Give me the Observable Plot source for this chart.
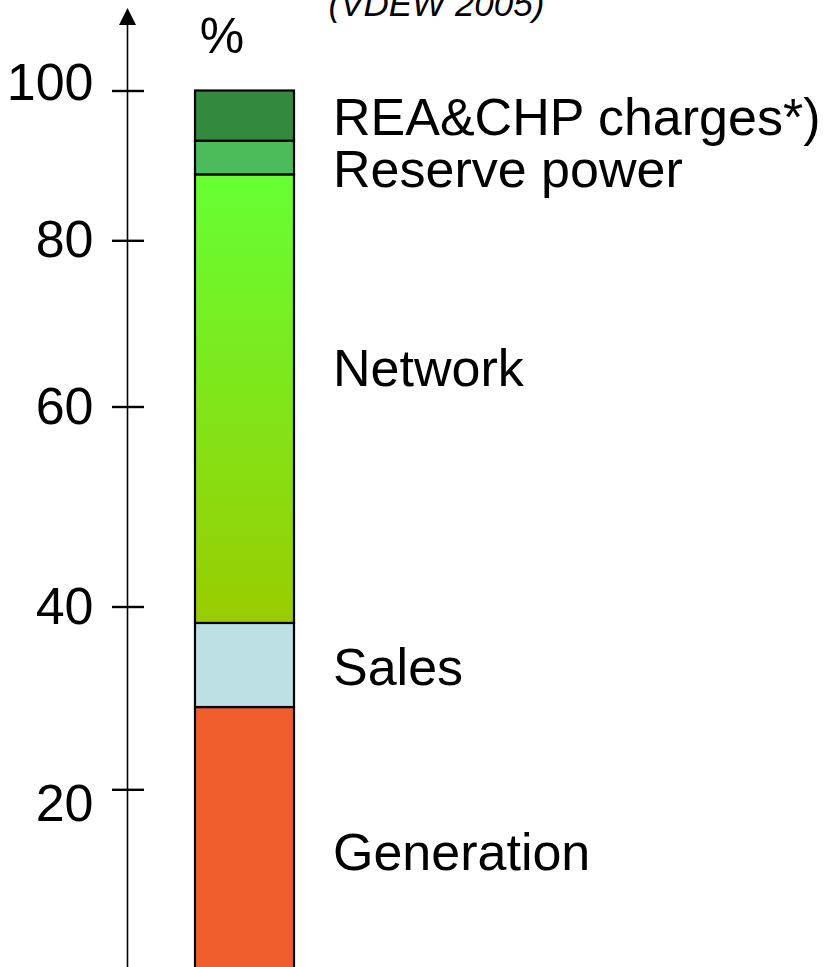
<!DOCTYPE html>
<html>
<head>
<meta charset="utf-8">
<script src="https://cdn.jsdelivr.net/npm/d3@7"></script>
<script src="https://cdn.jsdelivr.net/npm/@observablehq/plot@0.6"></script>
<style>
  html, body { margin: 0; padding: 0; background: #fff; overflow: hidden; }
</style>
</head>
<body>
<div id="chart"></div>
<script>
// ---- data ----
const components = ["Generation", "Sales", "Network", "Reserve power", "REA&CHP charges*)"];
const shares = [29.0, 9.2, 50.6, 4.5, 6.7];
const colors = ["#f05e2e", "#bce0e3", "url(#networkGradient)", "#4cbb5a", "#338a3e"];
const yTicks = [20, 40, 60, 80, 100];
const unitLabel = "%";
const sourceLabel = "(VDEW 2005)";
const barKey = "Household electricity price";

// ---- build table ----
let acc = 0;
const rows = components.map((name, i) => {
  const lo = acc;
  acc += shares[i];
  return { name, value: shares[i], bar: barKey, mid: (lo + acc) / 2 };
});

const labelNudge = { "REA&CHP charges*)": 2, "Reserve power": 12, "Network": -9, "Sales": 3, "Generation": 13 };
const tickNudge = { 100: -8, 20: 15 };

// gradient definition for the network segment
function gradientDefs() {
  const ns = "http://www.w3.org/2000/svg";
  const defs = document.createElementNS(ns, "defs");
  const g = document.createElementNS(ns, "linearGradient");
  g.setAttribute("id", "networkGradient");
  g.setAttribute("x1", "0"); g.setAttribute("y1", "1");
  g.setAttribute("x2", "0"); g.setAttribute("y2", "0");
  [["0%", "#9acc00"], ["100%", "#66ff33"]].forEach(([o, c]) => {
    const s = document.createElementNS(ns, "stop");
    s.setAttribute("offset", o);
    s.setAttribute("stop-color", c);
    g.appendChild(s);
  });
  defs.appendChild(g);
  return defs;
}

const arrowHead = {
  draw(context, size) {
    const r = Math.sqrt(size / Math.PI);
    context.moveTo(0, -r);
    context.lineTo(r, r);
    context.lineTo(-r, r);
    context.closePath();
  }
};

const chart = Plot.plot({
  width: 828,
  height: 967,
  marginLeft: 127,
  marginRight: 684,
  marginTop: 16,
  marginBottom: 0,
  style: {
    fontFamily: "'Liberation Sans', Arial, Helvetica, sans-serif",
    fontSize: "52px",
    color: "black",
    background: "white"
  },
  x: { domain: [barKey], range: [195, 294], padding: 0, round: false, axis: null },
  y: { type: "linear", domain: [0, ...yTicks], range: [973, 789.3, 606.5, 406.5, 240.3, 90.5], axis: null },
  color: { type: "ordinal", domain: components, range: colors },
  marks: [
    gradientDefs,
    Plot.barY(rows, { x: "bar", y: "value", fill: "name", stroke: "black", strokeWidth: 2.2 }),
    Plot.frame({ anchor: "left", stroke: "black", strokeWidth: 1.6 }),
    Plot.dot([0], { frameAnchor: "top-left", symbol: arrowHead, r: 8.5, fill: "black", stroke: null }),
    Plot.ruleY(yTicks, { y: d => d, insetLeft: -15, stroke: "black", strokeWidth: 2.4 }),
    ...yTicks.map(t => Plot.text([t], {
      y: d => d, text: d => String(d), frameAnchor: "left", textAnchor: "end",
      dx: -34, dy: tickNudge[t] ?? 0, fontSize: 52, fill: "black"
    })),
    ...rows.map(r => Plot.text([r], {
      x: "bar", y: "mid", text: "name", textAnchor: "start",
      dx: 88, dy: labelNudge[r.name] ?? 0, fontSize: 52, fill: "black"
    })),
    Plot.text([unitLabel], { x: () => barKey, y: () => 100, text: d => d, dx: -23, dy: -54, fontSize: 50, fill: "black" }),
    Plot.text([sourceLabel], {
      frameAnchor: "top-left", text: d => d, textAnchor: "start",
      dx: 201, dy: -25, fontSize: 35, fontStyle: "italic", fill: "black"
    })
  ]
});

document.getElementById("chart").appendChild(chart);
</script>
</body>
</html>
